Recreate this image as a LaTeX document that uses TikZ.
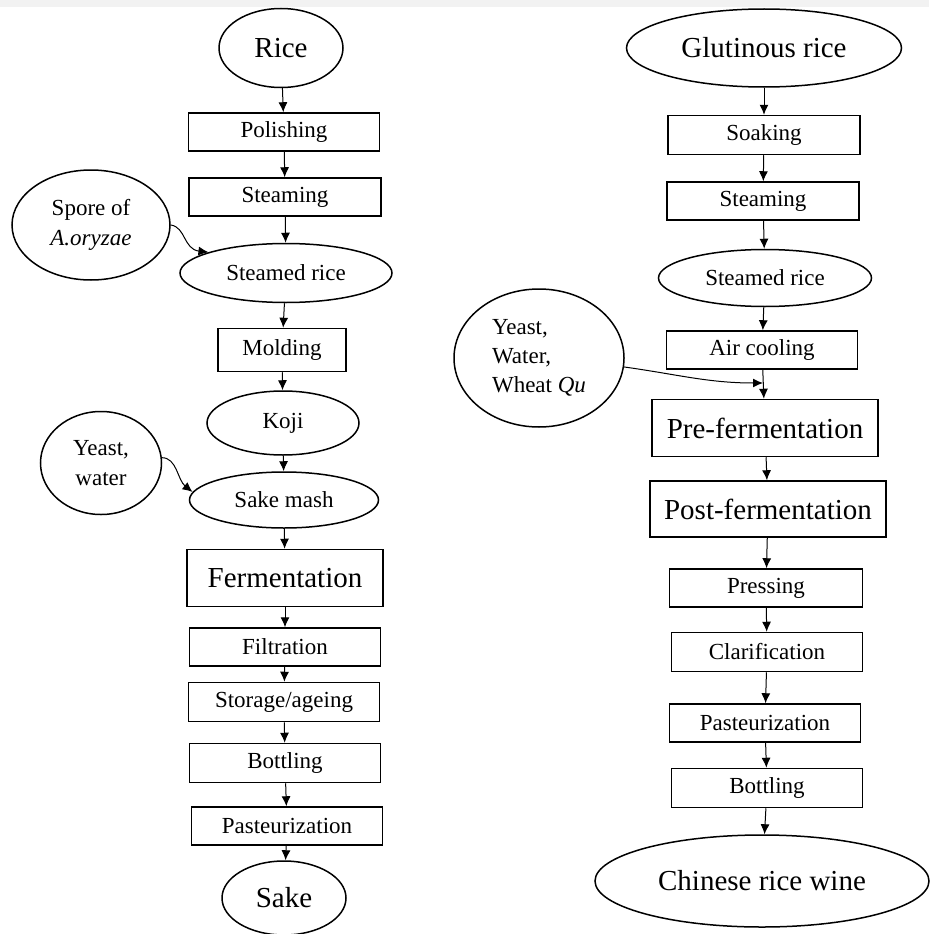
\documentclass[tikz,border=0pt]{standalone}
\usepackage{fontspec}
\setmainfont{Liberation Serif}
\usepackage{tikz}
\usetikzlibrary{arrows.meta}
\usetikzlibrary{shapes.geometric}

\tikzset{
  stepbox/.style={draw, line width=1.5pt, rectangle, inner sep=0pt,
    minimum width=191pt, minimum height=38pt,
    font=\fontsize{23}{28}\selectfont},
  bigbox/.style={stepbox, minimum height=57pt,
    font=\fontsize{29}{34}\selectfont},
  oval/.style={draw, line width=1.5pt, ellipse, inner sep=0pt, align=center,
    font=\fontsize{23}{30}\selectfont},
  bigoval/.style={oval, font=\fontsize{29}{34}\selectfont},
  arr/.style={-{Latex[length=10pt,width=9pt]}, line width=1pt}
}

\begin{document}
\begin{tikzpicture}[x=1pt, y=-1pt]

    \useasboundingbox (0, 0) rectangle (929, 934);
    \fill [black!5] (0, 0) rectangle (929, 7);

    % sake
    \node [bigoval, minimum width=124pt, minimum height=79pt] (rice) at (281, 48) {Rice};
    \node [stepbox] (polish) at (284, 132) {Polishing};
    \node [stepbox, minimum width=192pt] (steam) at (285, 197) {Steaming};
    \node [oval, minimum width=158pt, minimum height=110pt] (spore) at (91, 225)
      {Spore of\\\textit{A.oryzae}};
    \node [oval, minimum width=212pt, minimum height=59pt] (steamed) at (286, 273) {Steamed rice};
    \node [stepbox, minimum width=128pt, minimum height=43pt] (mold) at (282, 350) {Molding};
    \node [oval, minimum width=152pt, minimum height=64pt] (koji) at (283, 423) {Koji};
    \node [oval, minimum width=121pt, minimum height=103pt] (yeastw) at (101, 463)
      {Yeast,\\water};
    \node [oval, minimum width=189pt, minimum height=56pt] (mash) at (284, 500) {Sake mash};
    \node [bigbox, minimum width=196pt] (ferm) at (285, 578) {Fermentation};
    \node [stepbox] (filt) at (285, 647) {Filtration};
    \node [stepbox, minimum height=39pt] (store) at (284, 702) {Storage/ageing};
    \node [stepbox, minimum height=39pt] (bottle) at (285, 763) {Bottling};
    \node [stepbox] (pasteur) at (287, 826) {Pasteurization};
    \node [bigoval, minimum width=124pt, minimum height=74pt] (sake) at (284, 898) {Sake};

    \foreach \a/\b in {rice/polish, polish/steam, steam/steamed, steamed/mold,
      mold/koji, koji/mash, mash/ferm, ferm/filt, filt/store, store/bottle,
      bottle/pasteur, pasteur/sake}
      \draw [arr] (\a) -- (\b);

    \draw [arr] (spore.east) .. controls +(15, 2) and +(-25, -3) .. (steamed.165);
    \draw [arr] (yeastw.5) .. controls +(15, 0) and +(-15, -12) .. (mash.175);

    % chinese rice wine
    \node [bigoval, minimum width=275pt, minimum height=78pt] (glut) at (764, 48) {Glutinous rice};
    \node [stepbox, minimum width=192pt, minimum height=39pt] (soak) at (764, 135) {Soaking};
    \node [stepbox, minimum width=192pt] (steamb) at (763, 201) {Steaming};
    \node [oval, minimum width=213pt, minimum height=57pt] (steamedb) at (765, 278) {Steamed rice};
    \node [stepbox] (aircool) at (762, 350) {Air cooling};
    \node [oval, minimum width=170pt, minimum height=138pt, align=left,
      font=\fontsize{23}{29}\selectfont] (mix) at (539, 358)
      {Yeast,\\Water,\\Wheat \textit{Qu}};
    \node [bigbox, minimum width=226pt] (prefer) at (765, 428) {Pre-fermentation};
    \node [bigbox, minimum width=236pt, minimum height=56pt] (postfer) at (768, 509) {Post-fermentation};
    \node [stepbox, minimum width=193pt] (press) at (766, 588) {Pressing};
    \node [stepbox, minimum height=39pt] (clarif) at (767, 652) {Clarification};
    \node [stepbox] (pastb) at (765, 723) {Pasteurization};
    \node [stepbox, minimum height=39pt] (bottleb) at (767, 788) {Bottling};
    \node [bigoval, minimum width=334pt, minimum height=92pt] (wine) at (762, 881) {Chinese rice wine};

    \foreach \a/\b in {glut/soak, soak/steamb, steamb/steamedb, steamedb/aircool,
      aircool/prefer, prefer/postfer, postfer/press, press/clarif, clarif/pastb,
      pastb/bottleb, bottleb/wine}
      \draw [arr] (\a) -- (\b);

    \coordinate (jn) at (763, 383);
    \draw [arr] (mix.-6) to [out=-8, in=180] (jn);

  \end{tikzpicture}
\end{document}
